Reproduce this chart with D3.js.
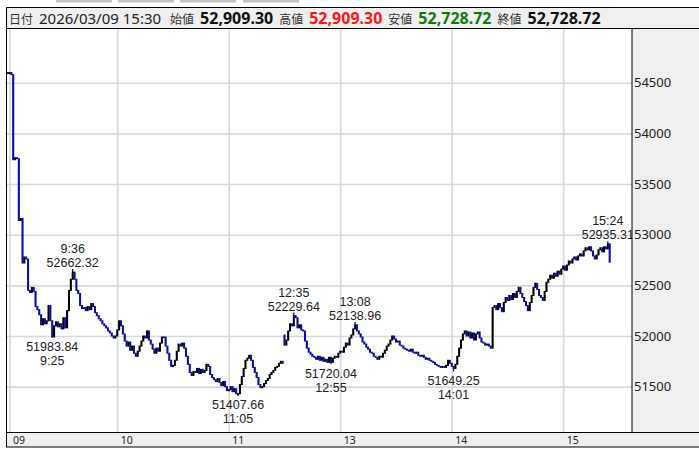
<!DOCTYPE html>
<html>
<head>
<meta charset="utf-8">
<script src="https://cdn.jsdelivr.net/npm/d3@7"></script>
<style>
body { margin: 0; background: #fff; }
svg { display: block; font-family: "Noto Sans", "Noto Sans CJK JP", sans-serif; }
</style>
</head>
<body>
<div id="chart"></div>
<script>
// ---- data (1-minute bars) ----
const headerLabels = ["日付", "始値", "高値", "安値", "終値"];
const headerValues = ["2026/03/09 15:30", "52,909.30", "52,909.30", "52,728.72", "52,728.72"];

const sessionOpens = [54610, 52010];          // first bar of morning / afternoon

// 09:00 .. 11:29
const morningCloses = [
	54600, 54590, 54600, 54580,
	53740, 53760, 53750, 53140, 53160,
	52720, 52780, 52760,
	52450, 52430, 52480, 52440,
	52290, 52260, 52210, 52110, 52170, 52120, 52150,
	52300, 52150, 51990,
	52100, 52140, 52090, 52120, 52070, 52180,
	52080, 52250, 52450, 52560, 52630,
	52560, 52450, 52420, 52300, 52270, 52280, 52250, 52290, 52260, 52320, 52290,
	52230, 52200, 52170, 52150, 52120, 52100, 52080, 52050, 52030, 52000, 51980, 52000,
	52060, 52150, 52100, 52020, 51950, 51900, 51940, 51860, 51900, 51830,
	51800, 51850, 51900, 51950, 52000, 51980, 52050, 51960, 51920, 51870,
	51830, 51880, 51850, 51930, 51990, 51990, 51900, 51830, 51760, 51700,
	51710, 51760, 51850, 51920, 51900, 51930, 51880, 51800, 51720, 51640,
	51610, 51650, 51640, 51680, 51630, 51670, 51640, 51660, 51720, 51700,
	51620, 51590, 51570, 51550, 51580, 51540, 51510, 51550, 51500, 51460,
	51470, 51500, 51450, 51480, 51430, 51430, 51520, 51600, 51680, 51760,
	51780, 51810, 51760, 51690, 51640, 51590, 51520, 51490, 51500, 51530,
	51560, 51580, 51620, 51640, 51660, 51690, 51700, 51730, 51750, 51730
];

// 12:30 .. 15:24
const afternoonCloses = [
	51910, 51960, 52050, 52120, 52100, 52200, 52180, 52080, 52110, 52060,
	52050, 51950, 51880, 51840, 51820, 51800, 51790, 51770, 51800, 51760,
	51790, 51750, 51770, 51740, 51790, 51740, 51780, 51800, 51790, 51830,
	51850, 51840, 51890, 51930, 51910, 51980, 52010, 52070, 52110, 52050,
	52020, 51990, 51940, 51920, 51890, 51870, 51840, 51830, 51800, 51790,
	51770, 51800, 51790, 51830, 51860, 51900, 51920, 51960, 52000, 51970,
	51940, 51950, 51910, 51900, 51880, 51870, 51860, 51850, 51870, 51840,
	51830, 51840, 51810, 51800, 51810, 51790, 51770, 51780, 51760, 51750,
	51740, 51720, 51710, 51700, 51690, 51700, 51690, 51710, 51760, 51730,
	51700, 51680, 51720, 51800, 51880, 51960, 52020, 52050, 52000, 52040,
	51980, 52030, 51960, 52020, 52040, 51980, 51940, 51930, 51910, 51920,
	51900, 51880, 52280, 52300, 52260, 52320, 52280, 52240, 52330, 52380,
	52350, 52400, 52360, 52420, 52380, 52440, 52480, 52420, 52380, 52340,
	52300, 52250, 52330, 52400, 52480, 52520, 52460, 52400, 52380, 52350,
	52440, 52530, 52560, 52600, 52570, 52620, 52590, 52640, 52610, 52660,
	52690, 52650, 52700, 52740, 52720, 52760, 52780, 52750, 52790, 52810,
	52790, 52840, 52870, 52850, 52880, 52840, 52790, 52760, 52800, 52850,
	52870, 52830, 52880, 52860, 52909.30
];

const closingBar = {time: "15:30", open: 52909.30, close: 52728.72};

const extremes = [
	{time: "09:36", value: 52662.32, kind: "high"},
	{time: "09:25", value: 51983.84, kind: "low"},
	{time: "11:05", value: 51407.66, kind: "low"},
	{time: "12:35", value: 52229.64, kind: "high"},
	{time: "12:55", value: 51720.04, kind: "low"},
	{time: "13:08", value: 52138.96, kind: "high"},
	{time: "14:01", value: 51649.25, kind: "low"},
	{time: "15:24", value: 52935.31, kind: "high"}
];

const priceTicks = [51500, 52000, 52500, 53000, 53500, 54000, 54500];
const timeTicks = ["09:02", "10:00", "11:00", "13:00", "14:00", "15:00"];
const timeTickLabels = ["09", "10", "11", "13", "14", "15"];

// ---- build bars ----
const clock = m => String(Math.floor(m / 60)).padStart(2, '0') + ':' + String(m % 60).padStart(2, '0');

const bars = [];
morningCloses.forEach((c, i) => bars.push({time: clock(9 * 60 + i), close: c}));
afternoonCloses.forEach((c, i) => bars.push({time: clock(12 * 60 + 30 + i), close: c}));
bars.push({time: closingBar.time, open: closingBar.open, close: closingBar.close});

bars.forEach((b, i) => {
	if (b.open === undefined) {
		if (i === 0) b.open = sessionOpens[0];
		else if (b.time === "12:30") b.open = sessionOpens[1];
		else b.open = bars[i - 1].close;
	}
	b.i = i;
	b.high = Math.max(b.open, b.close);
	b.low = Math.min(b.open, b.close);
});
extremes.forEach(e => {
	const b = bars.find(d => d.time === e.time);
	e.i = b.i;
	if (e.kind === 'high') b.high = Math.max(b.high, e.value);
	else b.low = Math.min(b.low, e.value);
});
const barIndex = t => bars.find(d => d.time === t).i;

// ---- layout ----
const W = 699, H = 450;
const plot = {left: 6.5, right: 632, top: 28.5, bottom: 432.5};

const svg = d3.select('#chart').append('svg')
	.attr('width', W)
	.attr('height', H);

const xScale = d3.scaleLinear().domain([0, 330]).range([5.8, 5.8 + 330 * 1.858]);
const yScale = d3.scaleLinear().domain([51000, 55000]).range([437.3, 32.05]);

// toolbar stubs at very top
svg.append('g').selectAll('rect')
	.data([56, 118, 180, 243])
	.enter().append('rect')
	.attr('x', d => d).attr('y', -3)
	.attr('width', 56).attr('height', 5.5)
	.attr('fill', '#c3c3c3');

svg.append('rect')
	.attr('x', plot.left).attr('y', plot.top)
	.attr('width', plot.right - plot.left).attr('height', plot.bottom - plot.top)
	.attr('fill', '#fff');

// grid
svg.append('g')
	.attr('class', 'grid')
	.attr('transform', `translate(${plot.left},0)`)
	.call(d3.axisRight(yScale).tickValues(priceTicks).tickSize(plot.right - plot.left).tickFormat(''))
	.call(g => g.select('.domain').remove())
	.call(g => g.selectAll('line').attr('stroke', '#d9d9d9').attr('stroke-width', 1.6));

svg.append('g')
	.attr('class', 'grid')
	.attr('transform', `translate(0,${plot.top})`)
	.call(d3.axisBottom(xScale).tickValues(timeTicks.map(barIndex)).tickSize(plot.bottom - plot.top).tickFormat(''))
	.call(g => g.select('.domain').remove())
	.call(g => g.selectAll('line').attr('stroke', '#d9d9d9').attr('stroke-width', 1.6));

// candles
svg.append('clipPath').attr('id', 'plotclip')
	.append('rect')
	.attr('x', plot.left).attr('y', plot.top)
	.attr('width', plot.right - plot.left).attr('height', plot.bottom - plot.top);

const up = '#000000', down = '#0c0ca2';
const candles = svg.append('g').attr('clip-path', 'url(#plotclip)');

candles.selectAll('.wick')
	.data(bars)
	.enter().append('line')
	.attr('class', 'wick')
	.attr('x1', d => xScale(d.i)).attr('x2', d => xScale(d.i))
	.attr('y1', d => yScale(d.high)).attr('y2', d => yScale(d.low))
	.attr('stroke', d => d.close >= d.open ? up : down)
	.attr('stroke-width', 1.2);

candles.selectAll('.body')
	.data(bars)
	.enter().append('rect')
	.attr('class', 'body')
	.attr('x', d => xScale(d.i) - 1)
	.attr('width', 2)
	.attr('y', d => yScale(Math.max(d.open, d.close)) - 0.5)
	.attr('height', d => Math.max(1.6, yScale(Math.min(d.open, d.close)) - yScale(Math.max(d.open, d.close)) + 1))
	.attr('fill', d => d.close >= d.open ? up : down);

// high / low labels
const notes = svg.append('g')
	.attr('font-family', '"Liberation Sans", Arial, sans-serif')
	.attr('font-size', '12.5px')
	.attr('fill', '#222')
	.attr('text-anchor', 'middle');

extremes.forEach(e => {
	const x = xScale(e.i), y = yScale(e.value);
	const t = e.time.replace(/^0/, '');
	const v = e.value.toFixed(2);
	if (e.kind === 'high') {
		notes.append('text').attr('x', x).attr('y', y - 16).text(t);
		notes.append('text').attr('x', x).attr('y', y - 2).text(v);
	} else {
		notes.append('text').attr('x', x).attr('y', y + 13.5).text(v);
		notes.append('text').attr('x', x).attr('y', y + 27.5).text(t);
	}
});

// right price panel
svg.append('rect')
	.attr('x', plot.right).attr('y', plot.top)
	.attr('width', W - plot.right + 5).attr('height', plot.bottom - plot.top)
	.attr('fill', '#efefef')
	.attr('stroke', '#000');

svg.append('g')
	.attr('transform', `translate(${plot.right},0)`)
	.call(d3.axisRight(yScale).tickValues(priceTicks).tickSize(0).tickPadding(2).tickFormat(d3.format('d')))
	.call(g => g.select('.domain').remove())
	.call(g => g.selectAll('text')
		.attr('font-size', '13px')
		.attr('font-family', '"Noto Sans", sans-serif')
		.attr('fill', '#222'));

// bottom time strip
svg.append('rect')
	.attr('x', plot.left).attr('y', plot.bottom)
	.attr('width', W - plot.left + 5).attr('height', 14.5)
	.attr('fill', '#efefef')
	.attr('stroke', '#000');

svg.append('g')
	.attr('transform', `translate(0,${plot.bottom})`)
	.call(d3.axisBottom(xScale)
		.tickValues(timeTicks.map(barIndex))
		.tickSize(0)
		.tickFormat((d, i) => timeTickLabels[i]))
	.call(g => g.select('.domain').remove())
	.call(g => g.selectAll('text')
		.attr('text-anchor', 'start')
		.attr('dx', 3)
		.attr('y', 11.5)
		.attr('dy', 0)
		.attr('font-size', '10.5px')
		.attr('font-family', '"Noto Sans", sans-serif')
		.attr('fill', '#222'));

// left border
svg.append('line')
	.attr('x1', plot.left).attr('x2', plot.left)
	.attr('y1', 7.5).attr('y2', plot.bottom + 14.5)
	.attr('stroke', '#000');

// header
svg.append('rect')
	.attr('x', plot.left).attr('y', 7.5)
	.attr('width', W - plot.left + 5).attr('height', plot.top - 7.5)
	.attr('fill', '#efefef')
	.attr('stroke', '#000');

const valueColors = ['#222', '#111', '#ff1414', '#0e7a0e', '#111'];
let hx = 9;
const header = svg.append('g');
headerLabels.forEach((lab, i) => {
	const l = header.append('text')
		.attr('x', hx).attr('y', 24)
		.attr('font-family', '"Noto Sans CJK JP", sans-serif')
		.attr('font-size', '12px')
		.attr('fill', '#333')
		.text(lab);
	hx += l.node().getComputedTextLength() + 6;
	const v = header.append('text')
		.attr('x', hx).attr('y', 24)
		.attr('font-size', i === 0 ? '15px' : '16px')
		.attr('font-weight', i === 0 ? 'normal' : 'bold')
		.attr('fill', valueColors[i])
		.text(headerValues[i]);
	hx += v.node().getComputedTextLength() + (i === 0 ? 9 : 6);
});
</script>
</body>
</html>
